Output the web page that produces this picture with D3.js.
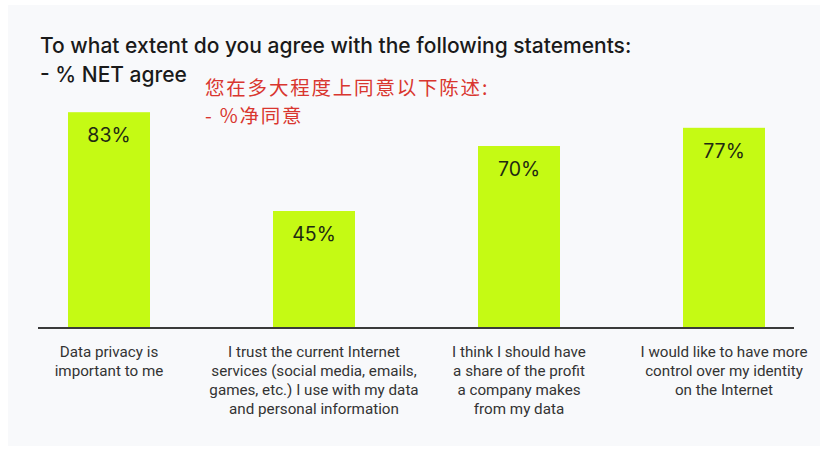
<!DOCTYPE html>
<html><head><meta charset="utf-8">
<script src="https://cdn.jsdelivr.net/npm/d3@7/dist/d3.min.js"></script>
<style>
html,body{margin:0;padding:0;background:#ffffff;}
svg{display:block;}
</style></head>
<body>
<svg id="chart" width="832" height="457"></svg>
<script>
const categories = [
  ["Data privacy is", "important to me"],
  ["I trust the current Internet", "services (social media, emails,", "games, etc.) I use with my data", "and personal information"],
  ["I think I should have", "a share of the profit", "a company makes", "from my data"],
  ["I would like to have more", "control over my identity", "on the Internet"]
];
const values = [83, 45, 70, 77];
const valueLabels = ["83%", "45%", "70%", "77%"];
const titleLines = ["To what extent do you agree with the following statements:", "- % NET agree"];
const noteLines = ["您在多大程度上同意以下陈述:", "- %净同意"];

const svg = d3.select("#chart");
svg.append("rect").attr("x", 8).attr("y", 5).attr("width", 812).attr("height", 441).attr("fill", "#f8f9fb");

const x = d3.scaleBand().domain(d3.range(values.length)).range([6.5, 826.5]).paddingInner(0.6).paddingOuter(0.3);
const y = d3.scaleLinear().domain([0, 100]).range([328, 68]);

svg.selectAll("rect.bar").data(values).join("rect").attr("class", "bar")
  .attr("x", (d, i) => x(i)).attr("width", x.bandwidth())
  .attr("y", d => y(d)).attr("height", d => y(0) - y(d))
  .attr("fill", "#c5fa14");

svg.selectAll("text.val").data(values).join("text").attr("class", "val")
  .attr("x", (d, i) => x(i) + x.bandwidth() / 2).attr("y", d => y(d) + 30)
  .attr("text-anchor", "middle").attr("font-family", "Inter, 'Noto Sans', sans-serif")
  .attr("font-size", 19.5).attr("fill", "#1f2a12")
  .text((d, i) => valueLabels[i]);

const axis = d3.axisBottom(x).tickSize(0).tickFormat(() => "");
const ax = svg.append("g").attr("transform", `translate(0,${y(0)})`).call(axis);
ax.select(".domain").attr("d", "M38,0H794").attr("stroke", "#3a3a3a").attr("stroke-width", 2);

const lab = svg.selectAll("text.cat").data(categories).join("text").attr("class", "cat")
  .attr("x", (d, i) => x(i) + x.bandwidth() / 2).attr("y", 357)
  .attr("text-anchor", "middle").attr("font-family", "Roboto, 'Noto Sans', sans-serif")
  .attr("font-size", 15.2).attr("fill", "#333333");
lab.selectAll("tspan").data(d => d).join("tspan")
  .attr("x", function() { return d3.select(this.parentNode).attr("x"); })
  .attr("dy", (d, j) => j === 0 ? 0 : 19).text(d => d);

svg.selectAll("text.title").data(titleLines).join("text").attr("class", "title")
  .attr("x", 40).attr("y", (d, i) => 53 + i * 29)
  .attr("font-family", "Inter, 'Noto Sans', sans-serif").attr("font-weight", 500)
  .attr("font-size", 21).attr("fill", "#1a1a1a").text(d => d);

svg.selectAll("text.note").data(noteLines).join("text").attr("class", "note")
  .attr("x", 205).attr("y", (d, i) => 94.5 + i * 28.5)
  .attr("font-family", "'Noto Sans CJK SC', sans-serif")
  .attr("font-size", 19.5).attr("letter-spacing", 1.8).attr("fill", "#d9362f").text(d => d);
</script>
</body></html>
